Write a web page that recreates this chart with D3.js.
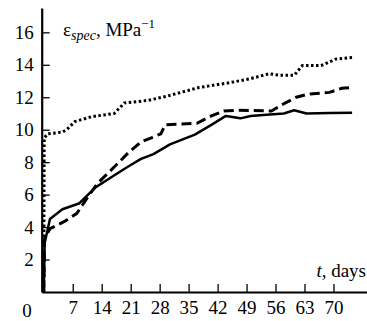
<html>
<head>
<style>
  body { margin: 0; background: white }
</style>
</head>
<body>
<script src="https://d3js.org/d3.v7.min.js"></script>
<script>

var width = 367,
    height = 321;

// jours (t) et valeurs
var solid = [[0,0],[0.2,3.0],[1.5,4.5],[4.5,5.1],[8.5,5.45],[12.5,6.45],[16.5,7.1],[20.5,7.75],
  [23.5,8.2],[26.5,8.5],[30.5,9.1],[36.5,9.7],[40.5,10.3],[44,10.85],[47.5,10.7],[50,10.85],
  [53,10.9],[58,11.0],[60.5,11.2],[63.5,11.0],[69,11.03],[74.5,11.05]];

var dashed = [[0,0],[0.2,3.3],[1.5,3.9],[5,4.35],[8,4.85],[10.5,5.8],[13,6.7],[17,7.7],
  [20.5,8.6],[23.5,9.25],[26,9.5],[28.3,9.75],[29.3,10.3],[37,10.4],[40.5,10.85],[43.5,11.15],
  [47,11.2],[55,11.15],[58,11.6],[61,12.0],[64,12.2],[69,12.3],[72,12.55],[74.5,12.6]];

var dotted = [[0,0],[0.1,9.5],[1,9.75],[4.5,9.85],[5.5,10.0],[7.5,10.5],[11.5,10.8],[17,11.0],
  [19.5,11.65],[25,11.8],[29.5,12.05],[37.5,12.6],[45,12.9],[50,13.15],[54.5,13.45],[57,13.35],
  [60.5,13.35],[62.5,13.95],[67,13.95],[70.5,14.35],[74.5,14.45]];

var xTicks = [7,14,21,28,35,42,49,56,63,70];
var yTicks = [2,4,6,8,10,12,14,16];

var x = d3.scaleLinear().domain([-0.5, 78.1]).range([41.7, width]);
var y = d3.scaleLinear().domain([0, 17.5]).range([292, 8]);

var svg = d3.select("body").append("svg")
  .attr("width", width)
  .attr("height", height);

// axes
var xAxis = svg.append("g")
  .attr("transform", "translate(0," + y(0) + ")")
  .call(d3.axisBottom(x).tickValues(xTicks).tickSizeInner(-8).tickSizeOuter(0).tickPadding(9));

var yAxis = svg.append("g")
  .attr("transform", "translate(" + x(-0.5) + ",0)")
  .call(d3.axisLeft(y).tickValues(yTicks).tickSizeInner(-8).tickSizeOuter(0).tickPadding(8));

[xAxis, yAxis].forEach(function(g) {
  g.attr("font-family", null).attr("font-size", null);
  g.select(".domain").attr("stroke", "#000").attr("stroke-width", 2.2);
  g.selectAll(".tick line").attr("stroke", "#000").attr("stroke-width", 1.3);
  g.selectAll(".tick text").attr("fill", "#000").style("font-size", "19px");
});

// origine
svg.append("text")
  .attr("x", 27)
  .attr("y", 317)
  .attr("text-anchor", "middle")
  .style("font-size", "19px")
  .text("0");

// courbes
var line = d3.line()
  .x(function(d) { return x(d[0]); })
  .y(function(d) { return y(d[1]); });

svg.append("path").datum(solid)
  .attr("d", line)
  .attr("fill", "none")
  .attr("stroke", "#000")
  .attr("stroke-width", 2.5)
  .attr("stroke-linejoin", "round");

svg.append("path").datum(dashed)
  .attr("d", line)
  .attr("fill", "none")
  .attr("stroke", "#000")
  .attr("stroke-width", 3)
  .attr("stroke-dasharray", "10,5");

svg.append("path").datum(dotted)
  .attr("d", line)
  .attr("fill", "none")
  .attr("stroke", "#000")
  .attr("stroke-width", 3)
  .attr("stroke-dasharray", "2.5,2.5");

// titres
var title = svg.append("text")
  .attr("x", 63)
  .attr("y", 36)
  .style("font-size", "19px");
title.append("tspan").text("ε");
title.append("tspan").attr("dy", 4).style("font-style", "italic").style("font-size", "14px").text("spec");
title.append("tspan").attr("dy", -4).text(", MPa");
title.append("tspan").attr("dy", -8).style("font-size", "13px").text("−1");

var xt = svg.append("text")
  .attr("x", 366)
  .attr("y", 277)
  .attr("text-anchor", "end")
  .style("font-size", "19px");
xt.append("tspan").style("font-style", "italic").text("t");
xt.append("tspan").text(", days");

svg.selectAll("text").style("font-family", "'Liberation Serif'").attr("fill", "#000");

</script>
</body>
</html>
